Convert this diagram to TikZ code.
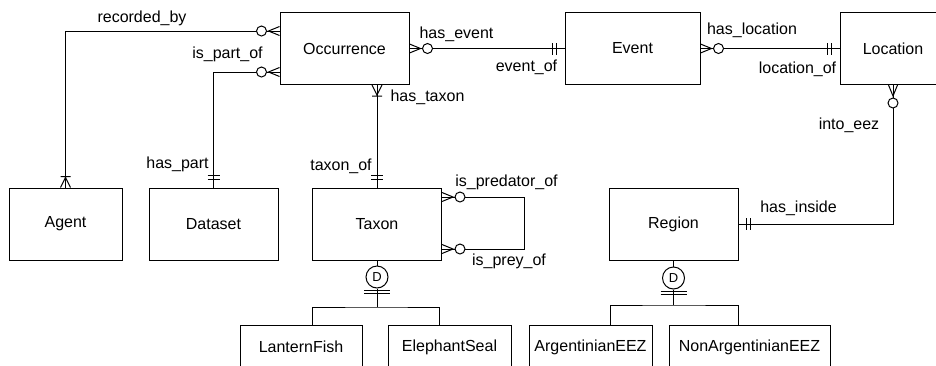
\documentclass[tikz,border=0pt]{standalone}
\usepackage{fontspec}
\setmainfont{Liberation Sans}
\begin{document}
\begin{tikzpicture}
  [x=1pt,y=-1pt,line width=1pt,
   entity/.style={draw,inner sep=0,minimum width=129pt,minimum height=72pt,font=\fontsize{16}{19}\selectfont},
   child/.style={entity,minimum height=44pt},
   lbl/.style={inner sep=0,font=\fontsize{16}{19}\selectfont},
   disc/.style={draw,circle,inner sep=0,minimum size=22pt,font=\fontsize{13}{13}\selectfont},
   zeromany/.pic={\draw (0,-4.5) -- (11,0) -- (0,4.5); \draw[fill=white] (18,0) circle[radius=5];},
   onemany/.pic={\draw (0,-5) -- (10,0) -- (0,5) (11,-5) -- (11,5);},
   oneone/.pic={\draw (8,-6) -- (8,6) (12,-6) -- (12,6);}]

  \useasboundingbox (0,0) rectangle (936,365);

  \node[entity] (occ) at (344.5,48.5) {Occurrence};
  \node[entity,minimum width=135pt] (event) at (632.5,48.5) {Event};
  \node[entity,minimum width=106pt] (loc) at (893,48.5) {Location};
  \node[entity,minimum width=113pt] (agent) at (65.5,224) {Agent};
  \node[entity] (dataset) at (213.5,224) {Dataset};
  \node[entity] (taxon) at (377,224) {Taxon};
  \node[entity] (region) at (673.5,224) {Region};
  \node[child,minimum width=122pt] (lfish) at (301,347) {LanternFish};
  \node[child,minimum width=123pt] (eseal) at (449.5,347) {ElephantSeal};
  \node[child,minimum width=123pt] (arg) at (590.5,347) {ArgentinianEEZ};
  \node[child,minimum width=161pt] (nonarg) at (749.5,347) {NonArgentinianEEZ};
  \node[disc] (dtax) at (377,277) {D};
  \node[disc] (dreg) at (673.5,278) {D};
  \coordinate (tfork) at (377,307);
  \coordinate (rfork) at (673.5,305);

  \draw ([yshift=17.5pt]occ.west) -| (agent.north);
  \draw ([yshift=-23.5pt]occ.west) -| (dataset.north);
  \draw (occ.east) -- (event.west);
  \draw (event.east) -- (loc.west);
  \draw (occ.south -| taxon.north) -- (taxon.north);
  \draw ([yshift=27pt]taxon.east) -- ++(82.5,0) |- ([yshift=-25pt]taxon.east);
  \draw (loc.south) |- (region.east);
  \draw (taxon.south) -- (dtax.north);
  \draw (dtax.south) -- (tfork);
  \draw ([xshift=11pt]lfish.north) |- (tfork) -| ([xshift=-10.5pt]eseal.north);
  \draw (dtax.south) ++(-13,1.5) -- ++(26,0) ++(-26,3.5) -- ++(26,0);
  \draw (region.south) -- (dreg.north);
  \draw (dreg.south) -- (rfork);
  \draw ([xshift=19.5pt]arg.north) |- (rfork) -| ([xshift=-11.5pt]nonarg.north);
  \draw (dreg.south) ++(-13,1.5) -- ++(26,0) ++(-26,3.5) -- ++(26,0);

  \pic[rotate=180] at ([yshift=17.5pt]occ.west) {zeromany};
  \pic[rotate=90] at (agent.north) {onemany};
  \pic[rotate=180] at ([yshift=-23.5pt]occ.west) {zeromany};
  \pic[rotate=90] at (dataset.north) {oneone};
  \pic at (occ.east) {zeromany};
  \pic[rotate=180] at (event.west) {oneone};
  \pic at (event.east) {zeromany};
  \pic[rotate=180] at (loc.west) {oneone};
  \pic[rotate=-90] at (occ.south -| taxon.north) {onemany};
  \pic[rotate=90] at (taxon.north) {oneone};
  \pic at ([yshift=27pt]taxon.east) {zeromany};
  \pic at ([yshift=-25pt]taxon.east) {zeromany};
  \pic[rotate=-90] at (loc.south) {zeromany};
  \pic at (region.east) {oneone};

  \node[lbl] (l1) at (142,18) {recorded\_by};
  \node[lbl] (l2) at (227.5,54) {is\_part\_of};
  \node[lbl] (l3) at (177.5,164) {has\_part};
  \node[lbl] (l4) at (456.5,34) {has\_event};
  \node[lbl] (l5) at (526.5,67) {event\_of};
  \node[lbl] (l6) at (752,30) {has\_location};
  \node[lbl] (l7) at (797.5,69) {location\_of};
  \node[lbl] (l8) at (427.5,97) {has\_taxon};
  \node[lbl] (l9) at (341,166) {taxon\_of};
  \node[lbl] (l10) at (506.5,182) {is\_predator\_of};
  \node[lbl] (l11) at (509,261) {is\_prey\_of};
  \node[lbl] (l12) at (849,125) {into\_eez};
  \node[lbl] (l13) at (798.5,208) {has\_inside};
\end{tikzpicture}
\end{document}
